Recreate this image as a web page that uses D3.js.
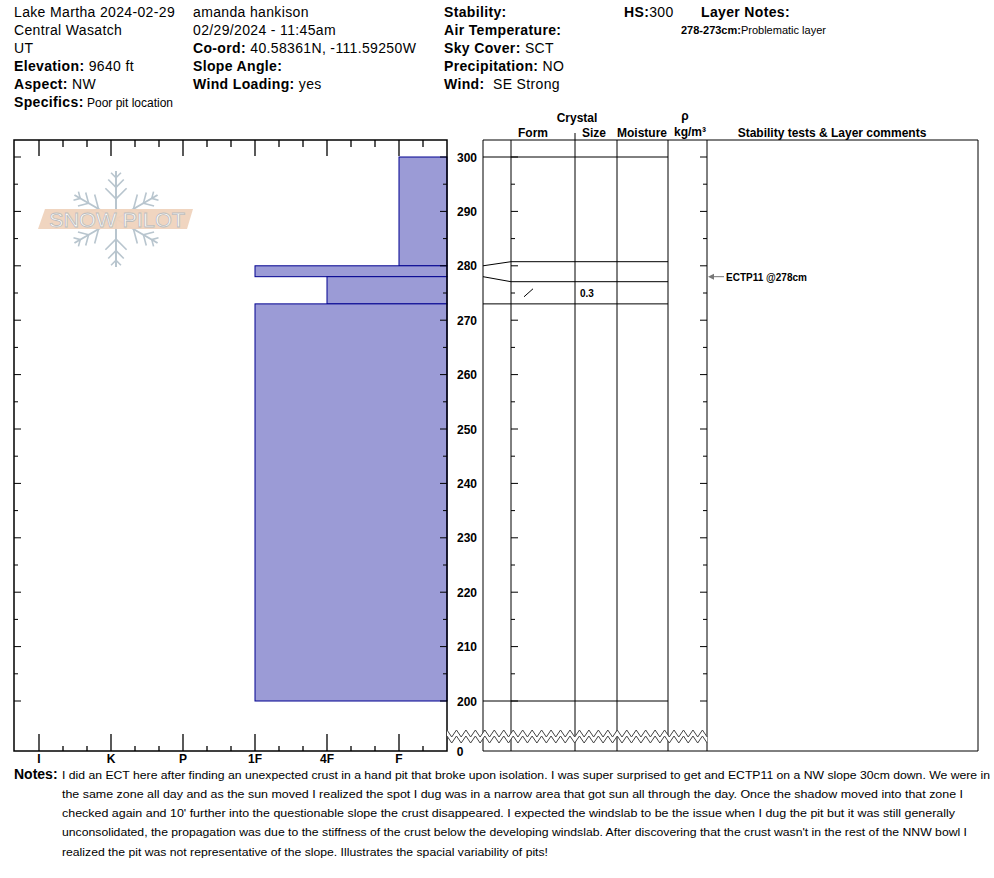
<!DOCTYPE html>
<html><head><meta charset="utf-8">
<script src="https://cdn.jsdelivr.net/npm/d3@7"></script>
<style>
body{margin:0;background:#fff}
svg{display:block}
text{font-family:"Liberation Sans",Arial,Helvetica,sans-serif;fill:#000}
</style>
</head><body>
<svg id="c" width="994" height="878"></svg>
<script>
// ---------------- DATA ----------------
const layerTops      = [300, 280, 278, 273];
const layerBottoms   = [280, 278, 273, 200];
const layerHardness  = ["F", "1F", "4F", "1F"];
const layerForms     = ["", "", "/", ""];
const layerSizes     = ["", "", "0.3", ""];
const hardnessLabels = ["I", "K", "P", "1F", "4F", "F"];
const depthLabels    = [300, 290, 280, 270, 260, 250, 240, 230, 220, 210, 200];
const testDepths     = [278];
const testLabels     = ["ECTP11 @278cm"];
const headerCol1 = [[["Lake Martha 2024-02-29",0]],[["Central Wasatch",0]],[["UT",0]],
  [["Elevation:",1],[" 9640 ft",0]],[["Aspect:",1],[" NW",0]],[["Specifics:",1],[" Poor pit location",0,12]]];
const headerCol2 = [[["amanda hankison",0]],[["02/29/2024 - 11:45am",0]],
  [["Co-ord:",1],[" 40.58361N, -111.59250W",0]],[["Slope Angle:",1]],[["Wind Loading:",1],[" yes",0]]];
const headerCol3 = [[["Stability:",1]],[["Air Temperature:",1]],[["Sky Cover:",1],[" SCT",0]],
  [["Precipitation:",1],[" NO",0]],[["Wind:",1],["  SE Strong",0]]];
const notesLines = [
 "I did an ECT here after finding an unexpected crust in a hand pit that broke upon isolation. I was super surprised to get and ECTP11 on a NW slope 30cm down. We were in",
 "the same zone all day and as the sun moved I realized the spot I dug was in a narrow area that got sun all through the day. Once the shadow moved into that zone I",
 "checked again and 10' further into the questionable slope the crust disappeared. I expected the windslab to be the issue when I dug the pit but it was still generally",
 "unconsolidated, the propagation was due to the stiffness of the crust below the developing windslab. After discovering that the crust wasn't in the rest of the NNW bowl I",
 "realized the pit was not representative of the slope. Illustrates the spacial variability of pits!"
];
const notesWidths = [928, 901, 893, 905, 486];

// ---------------- LAYOUT ----------------
const svg = d3.select("#c");
const box = {l:14, r:447, t:140, b:751};
const y = d3.scaleLinear().domain([300,200]).range([157,701]);
const x = d3.scaleLinear().domain([0,18]).range([447,15]);
const hardPos = h => (hardnessLabels.length-1-hardnessLabels.indexOf(h))*3+2;
const gx = [483, 511, 575, 617, 668, 707];
const rightBox = {l:707, r:978};

function txt(g, xx, yy, parts, size, anchor){
  const t = g.append("text").attr("x",xx).attr("y",yy).attr("font-size",size||14)
    .style("white-space","pre").attr("letter-spacing",size?0:0.35);
  if(anchor) t.attr("text-anchor",anchor);
  parts.forEach(p=>{
    const s = t.append("tspan").text(p[0]).attr("font-weight",p[1]?"bold":"normal");
    if(p[2]) s.attr("font-size",p[2]).attr("letter-spacing",0);
  });
  return t;
}

// ---------------- HEADER ----------------
const hdr = svg.append("g");
headerCol1.forEach((r,i)=>txt(hdr,14,17+i*18,r));
headerCol2.forEach((r,i)=>txt(hdr,193,17+i*18,r));
headerCol3.forEach((r,i)=>txt(hdr,444,17+i*18,r));
txt(hdr,624,17,[["HS:",1],["300",0]]);
txt(hdr,701,17,[["Layer Notes:",1]]);
layerTops.forEach((t,i)=>{ if(layerForms[i]==="/") txt(hdr,681,34,[[t+"-"+layerBottoms[i]+"cm:",1],["Problematic layer",0]],11); });

// ---------------- LOGO ----------------
const logo = svg.append("g");
const cx=116, cy=219, arm=48;
[90,30,-30,-90,-150,150].forEach(a=>{
  const r=a*Math.PI/180, ux=Math.cos(r), uy=-Math.sin(r);
  logo.append("line").attr("x1",cx).attr("y1",cy).attr("x2",cx+ux*arm).attr("y2",cy+uy*arm)
    .attr("stroke","#b8c5ce").attr("stroke-width",2);
  [[0.42,15],[0.66,11],[0.86,7]].forEach(([d,l])=>{
    const bx=cx+ux*arm*d, by=cy+uy*arm*d;
    [45,-45].forEach(o=>{
      const rr=(a+o)*Math.PI/180;
      logo.append("line").attr("x1",bx).attr("y1",by)
        .attr("x2",bx+Math.cos(rr)*l).attr("y2",by-Math.sin(rr)*l)
        .attr("stroke","#b8c5ce").attr("stroke-width",1.6);
    });
  });
});
logo.append("path").attr("d","M45,209 L193,209 L187,229 L38,229 Z").attr("fill","#efd3bd").attr("opacity",0.95);
logo.append("text").attr("x",49).attr("y",227).attr("font-size",20).attr("textLength",136)
  .attr("lengthAdjust","spacingAndGlyphs").style("fill","#fff").attr("stroke","#bdbdbd")
  .attr("stroke-width",0.8).text("SNOW PILOT");

// ---------------- HARDNESS PROFILE ----------------
const chart = svg.append("g");
chart.selectAll("rect.bar").data(layerTops).enter().append("rect")
  .attr("x",(d,i)=>x(hardPos(layerHardness[i])))
  .attr("width",(d,i)=>box.r-x(hardPos(layerHardness[i])))
  .attr("y",d=>y(d)).attr("height",(d,i)=>y(layerBottoms[i])-y(d))
  .attr("fill","#9b9bd6").attr("stroke","#000090").attr("stroke-width",1);
chart.append("rect").attr("x",box.l).attr("y",box.t).attr("width",box.r-box.l).attr("height",box.b-box.t)
  .attr("fill","none").attr("stroke","#000").attr("stroke-width",1.5);
d3.range(1,18).forEach(i=>{
  const major = i%3===2, xx=x(i);
  chart.append("line").attr("x1",xx).attr("x2",xx).attr("y1",box.t).attr("y2",box.t+(major?16:7)).attr("stroke","#000").attr("stroke-width",1.3);
  chart.append("line").attr("x1",xx).attr("x2",xx).attr("y1",box.b).attr("y2",box.b-(major?17:5)).attr("stroke","#000").attr("stroke-width",1.3);
});
hardnessLabels.forEach(h=>{
  chart.append("text").attr("x",x(hardPos(h))).attr("y",763).attr("text-anchor","middle")
    .attr("font-size",12).attr("font-weight","bold").text(h);
});
// depth ticks
d3.range(200,301,5).forEach(d=>{
  const major=d%10===0, yy=y(d), L=major?7:4;
  [[box.l,1],[box.r,-1],[gx[1],1],[gx[5],-1]].forEach(([xx,s])=>{
    chart.append("line").attr("x1",xx).attr("x2",xx+s*L).attr("y1",yy).attr("y2",yy).attr("stroke","#000").attr("stroke-width",1);
  });
});
depthLabels.forEach(d=>{
  chart.append("text").attr("x",477).attr("y",y(d)+4.5).attr("text-anchor","end")
    .attr("font-size",12).attr("font-weight","bold").text(d);
});

// ---------------- GRID ----------------
const grid = svg.append("g");
gx.forEach(xx=>grid.append("line").attr("x1",xx).attr("x2",xx).attr("y1",box.t).attr("y2",box.b).attr("stroke","#000"));
grid.append("line").attr("x1",gx[0]).attr("x2",rightBox.r).attr("y1",box.t).attr("y2",box.t).attr("stroke","#000");
grid.append("line").attr("x1",rightBox.r).attr("x2",rightBox.r).attr("y1",box.t).attr("y2",box.b).attr("stroke","#000");
grid.append("line").attr("x1",575).attr("x2",575).attr("y1",133).attr("y2",box.t).attr("stroke","#000");
// display positions of layer rows (min height 20px)
const dispTop = layerTops.map(d=>y(d)), dispBot = layerBottoms.map(d=>y(d));
layerTops.forEach((d,i)=>{
  const h=dispBot[i]-dispTop[i];
  if(h<20){ const e=20-h; dispTop[i]-=e*0.45; dispBot[i]+=e*0.55;
    if(i>0) dispBot[i-1]=dispTop[i]; if(i<layerTops.length-1) dispTop[i+1]=dispBot[i]; }
});
const bounds = layerTops.map((d,i)=>[d,dispTop[i]]).concat([[layerBottoms[layerBottoms.length-1],dispBot[dispBot.length-1]]]);
bounds.forEach(([d,gy])=>{
  grid.append("path").attr("d",`M${gx[0]},${y(d)} L${gx[1]},${gy} L${gx[4]},${gy}`)
    .attr("fill","none").attr("stroke","#000");
});
layerTops.forEach((d,i)=>{
  const mid=(dispTop[i]+dispBot[i])/2;
  if(layerForms[i]==="/") grid.append("line").attr("x1",524).attr("y1",mid+4).attr("x2",533).attr("y2",mid-4).attr("stroke","#000");
  if(layerSizes[i]) grid.append("text").attr("x",580).attr("y",mid+4).attr("font-size",10).attr("font-weight","bold").text(layerSizes[i]);
});
// column headers
[["Crystal",577,122],["Form",533,137],["Size",594,137],["Moisture",642,137],["ρ",685,120],["kg/m³",690,136],
 ["Stability tests & Layer comments",832,137]].forEach(([t,xx,yy])=>{
  grid.append("text").attr("x",xx).attr("y",yy).attr("text-anchor","middle").attr("font-size",12).attr("font-weight","bold").text(t);
});
// stability tests
testDepths.forEach((d,i)=>{
  const yy=y(d);
  grid.append("line").attr("x1",712).attr("x2",724).attr("y1",yy).attr("y2",yy).attr("stroke","#777");
  grid.append("path").attr("d",`M708,${yy} L714,${yy-3} L714,${yy+3} Z`).attr("fill","#777");
  grid.append("text").attr("x",726).attr("y",yy+4).attr("font-size",10).attr("font-weight","bold").text(testLabels[i]);
});
// zigzag break
const zx0=447, zx1=707, half=4.73;
const zpts=d3.range(0,Math.round((zx1-zx0)/half)+1).map(k=>[zx0+k*half,(k%2?737:730)]);
const zb=zpts.map(p=>[p[0],p[1]+6]);
grid.append("path").attr("d","M"+zpts.map(p=>p.join(",")).join("L")+"L"+zb.slice().reverse().map(p=>p.join(",")).join("L")+"Z")
  .attr("fill","#fff").attr("stroke","none");
[zpts,zb].forEach(pts=>grid.append("path").attr("d","M"+pts.map(p=>p.join(",")).join("L")).attr("fill","none").attr("stroke","#444").attr("stroke-width",1));
grid.append("line").attr("x1",gx[0]).attr("x2",rightBox.r).attr("y1",box.b).attr("y2",box.b).attr("stroke","#000");
grid.append("text").attr("x",460).attr("y",756).attr("text-anchor","middle").attr("font-size",12).attr("font-weight","bold").text("0");

// ---------------- NOTES ----------------
const notes = svg.append("g");
notes.append("text").attr("x",14).attr("y",779).attr("font-size",14).attr("font-weight","bold").text("Notes:");
notesLines.forEach((l,i)=>{
  notes.append("text").attr("x",62).attr("y",778.5+i*19.25).attr("font-size",11.6)
    .style("font-family","'Liberation Sans Narrow','Arial Narrow','Liberation Sans',sans-serif")
    .attr("textLength",notesWidths[i]).attr("lengthAdjust","spacingAndGlyphs").text(l);
});
</script>
</body></html>
